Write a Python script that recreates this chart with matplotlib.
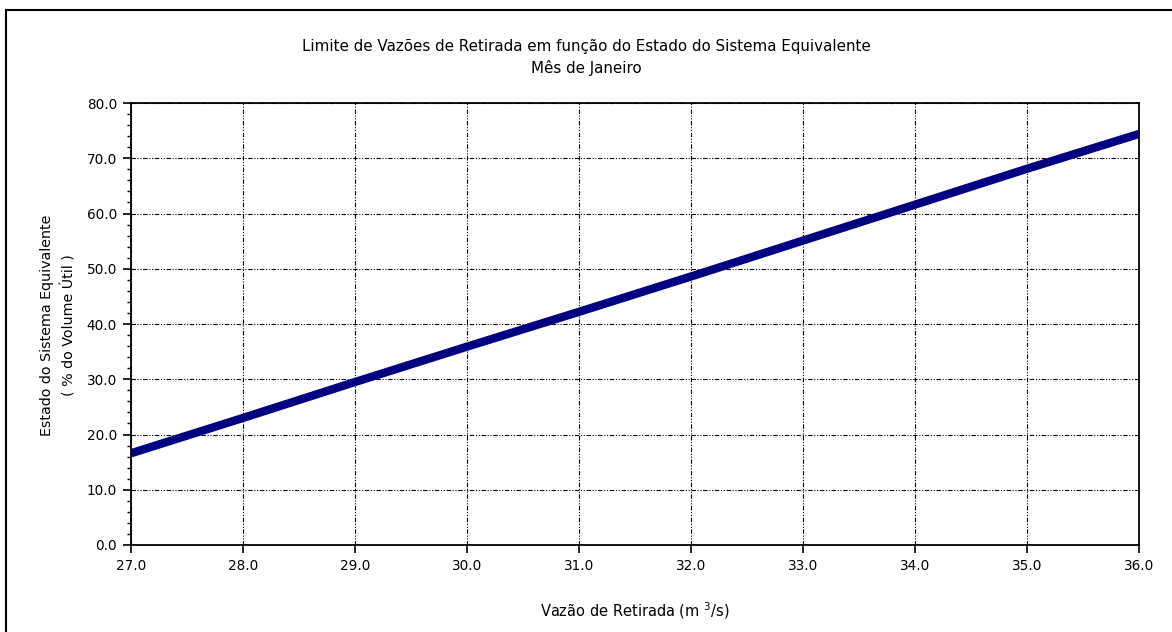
import numpy as np
from matplotlib import pyplot as plt
from matplotlib.patches import Rectangle

plt.rcParams['font.family'] = ['DejaVu Sans']

# Values
vazao = [27.0, 28.0, 29.0, 30.0, 31.0, 32.0, 33.0, 34.0, 35.0, 36.0]
estado = [16.6, 23.0, 29.5, 35.9, 42.2, 48.6, 55.1, 61.6, 68.1, 74.4]
x_ticks = [27.0, 28.0, 29.0, 30.0, 31.0, 32.0, 33.0, 34.0, 35.0, 36.0]
y_ticks = [0.0, 10.0, 20.0, 30.0, 40.0, 50.0, 60.0, 70.0, 80.0]

fig = plt.figure(figsize=(11.72, 6.32), dpi=100)
ax = fig.add_axes([131 / 1172, 1 - 545 / 632, (1139 - 131) / 1172, (545 - 103) / 632])

# outer frame of the original picture (runs off right and bottom)
fig.patches.append(Rectangle((6 / 1172, -0.1), 1.2, 1.1 - 10 / 632, transform=fig.transFigure,
                             fill=False, edgecolor='black', linewidth=1.5))

ax.plot(vazao, estado, color='#000080', linewidth=6, solid_capstyle='butt')

ax.set_xlim(27, 36)
ax.set_ylim(0, 80)
ax.set_xticks(x_ticks)
ax.set_yticks(y_ticks)
ax.set_yticks(np.arange(0, 81, 2), minor=True)
ax.set_xticklabels(['%.1f' % v for v in x_ticks], fontsize=9.8)
ax.set_yticklabels(['%.1f' % v for v in y_ticks], fontsize=9.8)
ax.tick_params(axis='both', which='major', length=6, width=1.2, direction='out', pad=4)
ax.tick_params(axis='y', which='minor', length=3, width=1.0, direction='out')

ax.grid(True, which='major', color='black', linewidth=0.8, linestyle=(0, (4, 1.5, 1, 1.5, 1, 1.5)))
for s in ax.spines.values():
    s.set_linewidth(1.3)

fig.text(0.5, 1 - 47 / 632, 'Limite de Vazões de Retirada em função do Estado do Sistema Equivalente',
         ha='center', va='center', fontsize=10.9)
fig.text(0.5, 1 - 68 / 632, 'Mês de Janeiro', ha='center', va='center', fontsize=10.9)

ax.set_xlabel('Vazão de Retirada (m $^{3}$/s)', fontsize=10.5, labelpad=20)
fig.text(47 / 1172, 1 - 325 / 632, 'Estado do Sistema Equivalente', rotation=90,
         ha='center', va='center', fontsize=10.3)
fig.text(69 / 1172, 1 - 325 / 632, '( % do Volume Útil )', rotation=90,
         ha='center', va='center', fontsize=10.3)

fig.savefig('out.png', dpi=100)
